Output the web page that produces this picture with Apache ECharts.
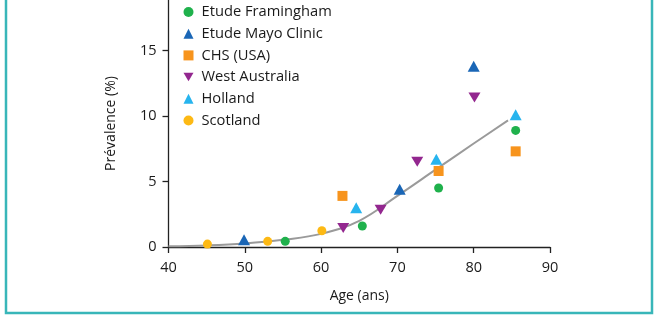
<!DOCTYPE html>
<html>
<head>
<meta charset="utf-8">
<script src="https://cdn.jsdelivr.net/npm/echarts@6/dist/echarts.min.js"></script>
<style>
html,body{margin:0;padding:0;background:#fff;}
#chart{width:658px;height:336px;}
</style>
</head>
<body>
<div id="chart"></div>
<script>
// Data
var seriesNames = ['Etude Framingham', 'Etude Mayo Clinic', 'CHS (USA)', 'West Australia', 'Holland', 'Scotland'];
var framingham = [[55.3, 0.43], [65.4, 1.6], [75.4, 4.5], [85.5, 8.9]];
var mayo = [[49.9, 0.55], [70.3, 4.4], [80.0, 13.8]];
var chs = [[62.8, 3.9], [75.4, 5.8], [85.5, 7.3]];
var westAustralia = [[62.9, 1.45], [67.8, 2.85], [72.6, 6.5], [80.1, 11.4]];
var holland = [[64.6, 3.0], [75.1, 6.7], [85.5, 10.1]];
var scotland = [[45.1, 0.22], [53.0, 0.43], [60.1, 1.24]];
var trendCurve = [[40, 0.05], [45, 0.12], [50, 0.27], [55, 0.55], [60, 1.0], [65, 2.0], [70, 3.9], [75, 5.9], [80, 7.9], [84.5, 9.66]];
var xTicks = [40, 50, 60, 70, 80, 90];
var yTicks = [0, 5, 10, 15];

var font = 'Open Sans';
var downTri = 'path://M0,0 L2,0 L1,1.7 Z';

function sc(name, data, symbol, size, color) {
  return {
    name: name, type: 'scatter', data: data, symbol: symbol, symbolSize: size,
    itemStyle: {color: color, opacity: 1}, z: 3
  };
}

var chart = echarts.init(document.getElementById('chart'), null, {renderer: 'canvas'});
chart.setOption({
  animation: false,
  backgroundColor: '#fff',
  textStyle: {fontFamily: font},
  grid: {left: 168.5, right: 108, top: 0, bottom: 89, containLabel: false},
  graphic: [{
    type: 'rect', shape: {x: 6, y: -10, width: 646, height: 323},
    style: {fill: 'none', stroke: '#38b6b9', lineWidth: 2.5}, z: 0
  }],
  legend: {
    orient: 'vertical', left: 178.5, top: -1, itemGap: 5.7,
    itemWidth: 10, itemHeight: 10,
    data: seriesNames,
    textStyle: {fontFamily: font, fontSize: 14.7, color: '#1a1a1a', lineHeight: 16, padding: [0, 0, 0, 3]}
  },
  xAxis: {
    type: 'value', min: 40, max: 90, interval: 10,
    name: 'Age (ans)', nameLocation: 'middle', nameGap: 42,
    nameTextStyle: {fontFamily: font, fontSize: 14, color: '#1a1a1a'},
    axisLine: {show: true, lineStyle: {color: '#222', width: 1.3}},
    axisTick: {show: true, length: 6, inside: false, lineStyle: {color: '#222', width: 1.3}},
    axisLabel: {fontFamily: font, fontSize: 14.5, color: '#1a1a1a', margin: 13,
      formatter: function (v) { return xTicks.indexOf(v) >= 0 ? String(v) : ''; }},
    splitLine: {show: false}
  },
  yAxis: {
    type: 'value', min: 0, max: 18.85, interval: 5,
    name: 'Prévalence (%)', nameLocation: 'middle', nameGap: 50, nameRotate: 90,
    nameTextStyle: {fontFamily: font, fontSize: 14, color: '#1a1a1a'},
    axisLine: {show: true, lineStyle: {color: '#222', width: 1.3}},
    axisTick: {show: true, length: 6, inside: false, lineStyle: {color: '#222', width: 1.3}},
    axisLabel: {fontFamily: font, fontSize: 14.5, color: '#1a1a1a', margin: 12, showMaxLabel: false,
      formatter: function (v) { return yTicks.indexOf(v) >= 0 ? String(v) : ''; }},
    splitLine: {show: false}
  },
  series: [
    {
      name: 'curve', type: 'line', data: trendCurve, smooth: 0.4, showSymbol: false, symbol: 'none',
      lineStyle: {color: '#9a9a9a', width: 2}, z: 2, silent: true
    },
    sc('Etude Framingham', framingham, 'circle', 9, '#1fb14c'),
    sc('Etude Mayo Clinic', mayo, 'triangle', [12, 11], '#1a66b6'),
    sc('CHS (USA)', chs, 'rect', 10, '#f7941d'),
    sc('West Australia', westAustralia, downTri, [12, 10], '#93278f'),
    sc('Holland', holland, 'triangle', [12, 11], '#27b4ee'),
    sc('Scotland', scotland, 'circle', 9, '#fdb914')
  ]
});
</script>
</body>
</html>
